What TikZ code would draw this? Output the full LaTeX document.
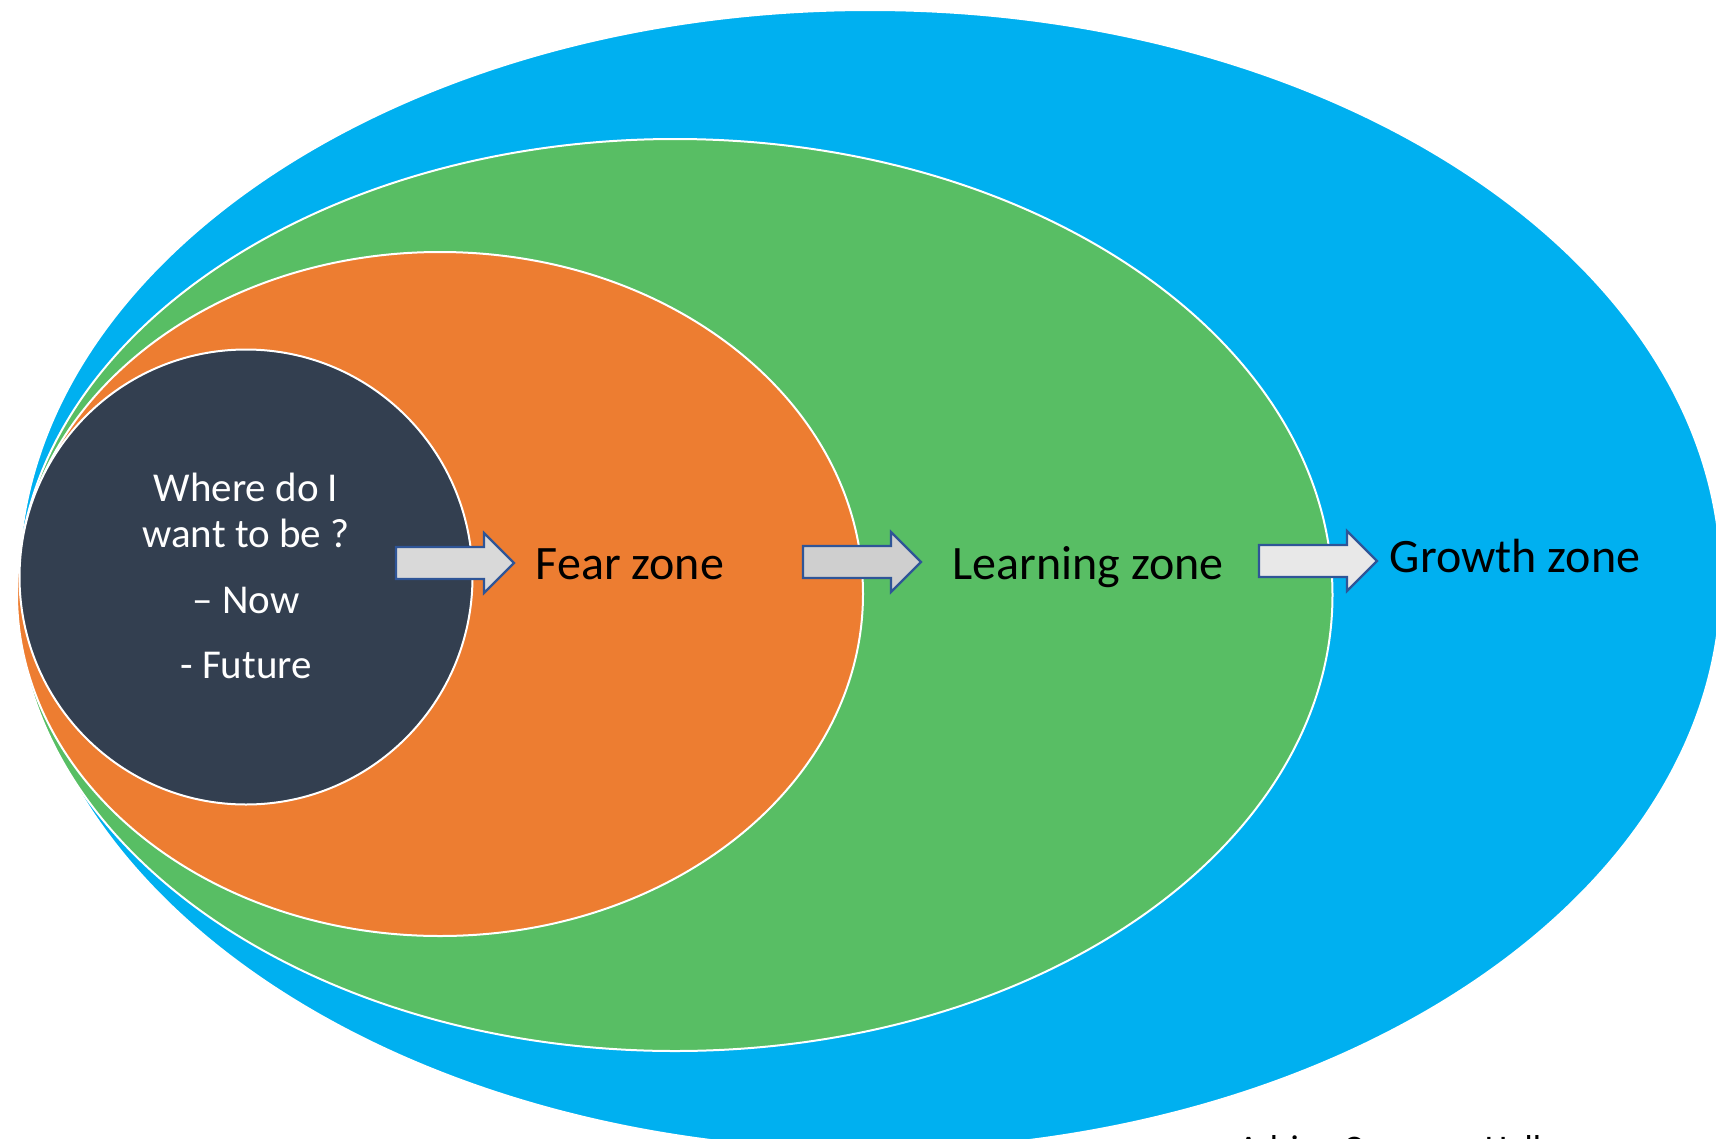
\documentclass[tikz,border=0pt]{standalone}
\usepackage{fontspec}
\setmainfont{Carlito}
\usepackage{tikz}
\usetikzlibrary{shapes.geometric}
\definecolor{zoneblue}{HTML}{00B0F0}
\definecolor{zonegreen}{HTML}{58BE64}
\definecolor{zoneorange}{HTML}{ED7D31}
\definecolor{zonedark}{HTML}{333F50}
\definecolor{arrowline}{HTML}{2F5597}
\tikzstyle{zone} = [ellipse, inner sep=0pt, draw=white, line width=2pt]
\tikzstyle{zonetext} = [anchor=base, inner sep=0pt, font=\fontsize{48}{56}\selectfont]
\tikzstyle{nowtext} = [anchor=base, inner sep=0pt, text=white, font=\fontsize{41}{46}\selectfont]
\tikzstyle{zonearrow} = [draw=arrowline, line width=2.2pt, line join=miter]
\newcommand{\zonearrow}[4]{% left x, centre y, length, fill
    \draw[zonearrow, fill=#4] (#1,#2-16) -- ++(#3-30,0) -- ++(0,-14)
        -- (#1+#3,#2) -- (#1+#3-30,#2+30) -- ++(0,-14) -- (#1,#2+16) -- cycle;}

\begin{document}
\begin{tikzpicture}[x=1pt, y=-1pt]

    \useasboundingbox (0,0) rectangle (1716,1138);

    \node[zone,
        fill=zoneblue,
        minimum width=1702pt,
        minimum height=1140pt]
    (growth) at (870,580) {};

    \node[zone,
        fill=zonegreen,
        minimum width=1315pt,
        minimum height=912pt]
    (learning) at (675,595) {};

    \node[zone,
        fill=zoneorange,
        minimum width=846pt,
        minimum height=684pt]
    (fear) at (440,594) {};

    \node[zone,
        fill=zonedark,
        minimum width=453pt,
        minimum height=455pt]
    (now) at (246,577) {};

    \zonearrow{396}{563}{118}{black!15}
    \zonearrow{803}{562}{118}{black!19}
    \zonearrow{1259}{561}{118}{black!9}

    \node[zonetext] (feartext) at (630,579) {Fear zone};
    \node[zonetext] (learningtext) at (1088,579) {Learning zone};
    \node[zonetext] (growthtext) at (1515,572) {Growth zone};

    \node[nowtext] (where) at (246,501) {Where do I};
    \node[nowtext] (want) at (246,547) {want to be ?};
    \node[nowtext] (present) at (246,613) {-- Now};
    \node[nowtext] (future) at (246,678) {- Future};

    \node[anchor=base west, inner sep=0pt,
        font=\fontsize{36}{42}\selectfont]
    (credit) at (1238,1160) {Adrian Cosgrove Hall};

\end{tikzpicture}
\end{document}
